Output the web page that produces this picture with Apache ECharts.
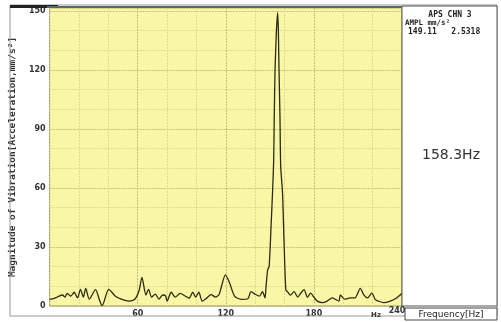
<!DOCTYPE html>
<html><head><meta charset="utf-8">
<script src="https://cdn.jsdelivr.net/npm/echarts@6/dist/echarts.min.js"></script>
<style>html,body{margin:0;padding:0;background:#fff}#c{width:501px;height:322px}</style>
</head><body><div id="c"></div>
<script>
const freqs = [0,3.2,8.8,10.5,12,14.5,16.7,19,21,23,24.6,27,31.3,34,35.8,40.3,44.8,49.3,53.9,58,61,62.9,65.6,67.4,69.5,72,74.5,77,79,80,82.8,85.5,89,92,95,97.5,99.5,101.6,104,107,110,113,115.5,117,119.7,122.6,126,130.5,135,137.2,140,142.9,145,146.7,147.4,148.5,149.5,150.8,151.9,152.6,153,153.5,154.4,155.3,155.8,156.2,156.9,157.4,158.6,159.7,160.9,162,164,166.5,169,171,173.3,175.6,177.8,180,182.3,186,189,192.5,197,198,201,204.8,208,211.6,214,216.5,219.5,221.7,224,227.5,232,236.3,240];
const amplitude = [3.4,3.9,5.6,4.5,6.4,5,7,4.1,8.5,4.5,9,3.5,8.3,3,0.2,8.5,5,3.4,2.5,3.4,8,14.6,5.6,8.5,4.5,6,3.5,5.6,5.2,2.5,7,4.5,6.4,5.2,4,7,4.5,7,2.5,4,5.8,4.5,6,9.8,15.8,11.7,5,3.4,3.7,7.3,6,5,7.3,4.1,9.8,18.3,20,40,59,74,96,119,138.6,149.1,140,121.6,96,70.8,58,32,8.1,7.3,5.5,7.3,4.5,6.5,8.3,4.5,6.5,4.5,2.5,1.7,2.5,4.1,2.5,5.6,3.5,4.1,4.1,9,5.6,4.1,6.5,3.4,2.5,1.7,2.5,4.1,6.5];
const xTickLabels = [60,120,180];
const yTickLabels = [0,30,60,90,120,150];
const panelLines = ['APS CHN 3','AMPL mm/s\u00b2','149.11   2.5318'];
const peakText = '158.3Hz';
const yTitle = 'Magnitude of Vibration[Acceleration,mm/s\u00b2]';
const xTitle = 'Frequency[Hz]';

const data = freqs.map((f,i)=>[f,amplitude[i]]);
const chart = echarts.init(document.getElementById('c'),null,{renderer:'canvas'});
const major='#c4c27a', minor='#dedc92';
const lblFont={fontFamily:'DejaVu Sans',fontSize:8,fontWeight:'bold',color:'#333'};
chart.setOption({
  animation:false,
  backgroundColor:'#fff',
  grid:{left:47,right:99,top:8,bottom:16,show:true,backgroundColor:'#f9f7a6',borderColor:'#8a8a70',borderWidth:1},
  xAxis:{type:'value',min:0,max:240,interval:20,
    axisLine:{show:false},axisTick:{show:false},
    axisLabel:Object.assign({margin:4,formatter:v=>xTickLabels.includes(v)?String(v):''},lblFont),
    splitLine:{show:true,lineStyle:{color:[major,minor,minor],width:1,type:[2,1]}}},
  yAxis:{type:'value',min:0,max:151.5,interval:10,
    name:yTitle,nameLocation:'middle',nameGap:27,nameRotate:90,
    nameTextStyle:{fontFamily:'DejaVu Sans Mono',fontSize:9.5,fontWeight:'bold',color:'#333'},
    axisLine:{show:false},axisTick:{show:false},
    axisLabel:Object.assign({margin:4,formatter:v=>yTickLabels.includes(v)?String(v):''},lblFont),
    splitLine:{show:true,lineStyle:{color:[major,minor,minor],width:1,type:[2,1]}}},
  series:[{type:'line',data:data,symbol:'none',smooth:0.25,
    lineStyle:{color:'#2b2b14',width:1.3},z:5}],
  graphic:[
    {type:'rect',shape:{x:10,y:5,width:487,height:311},style:{fill:'none',stroke:'#999',lineWidth:1},z:1},
    {type:'rect',shape:{x:10,y:5,width:48,height:3},style:{fill:'#222'},z:10},
    {type:'rect',shape:{x:47,y:6,width:355,height:2},style:{fill:'#5a6a66'},z:10},
    {type:'rect',shape:{x:402,y:6,width:95,height:300},style:{fill:'#fff',stroke:'#555',lineWidth:1},z:10},
    {type:'text',x:450,y:15,style:{text:panelLines[0],fontFamily:'DejaVu Sans Mono',fontSize:8,fontWeight:'bold',fill:'#222',align:'center',verticalAlign:'middle'},z:11},
    {type:'text',x:405,y:23,style:{text:panelLines[1],fontFamily:'DejaVu Sans Mono',fontSize:7.5,fontWeight:'bold',fill:'#222',align:'left',verticalAlign:'middle'},z:11},
    {type:'text',x:408,y:32,style:{text:panelLines[2],fontFamily:'DejaVu Sans Mono',fontSize:8,fontWeight:'bold',fill:'#222',align:'left',verticalAlign:'middle'},z:11},
    {type:'text',x:451,y:155,style:{text:peakText,fontFamily:'DejaVu Sans',fontSize:14,fill:'#333',align:'center',verticalAlign:'middle'},z:11},
    {type:'rect',shape:{x:405,y:308,width:92,height:12},style:{fill:'#fff',stroke:'#444',lineWidth:1},z:11},
    {type:'text',x:451,y:314.5,style:{text:xTitle,fontFamily:'DejaVu Sans',fontSize:9,fill:'#222',align:'center',verticalAlign:'middle'},z:12},
    {type:'text',x:376,y:315,style:{text:'Hz',fontFamily:'DejaVu Sans',fontSize:7,fontWeight:'bold',fill:'#333',align:'center',verticalAlign:'middle'},z:11},
    {type:'text',x:397,y:311,style:{text:'240',fontFamily:'DejaVu Sans',fontSize:8,fontWeight:'bold',fill:'#333',align:'center',verticalAlign:'middle'},z:11}
  ]
});
</script></body></html>
